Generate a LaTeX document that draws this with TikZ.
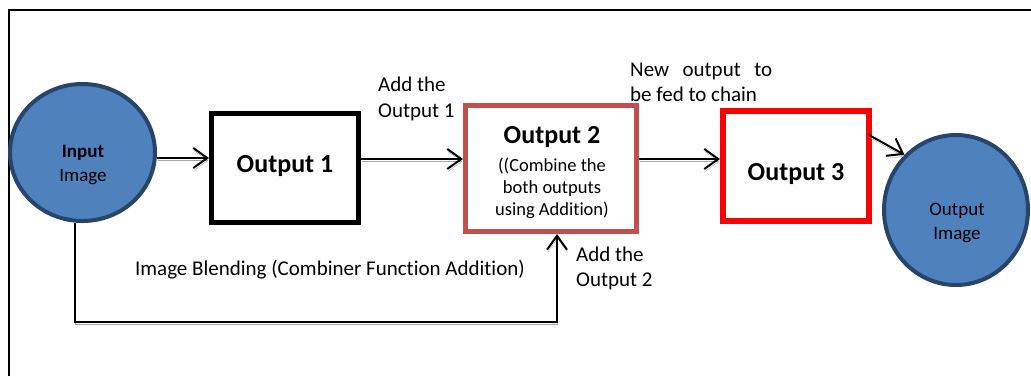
\documentclass[tikz,border=0pt]{standalone}
\usepackage{fontspec}
\setmainfont{Carlito}[Ligatures=NoCommon]
\usetikzlibrary{arrows.meta,shapes.geometric,calc}
\definecolor{cfill}{HTML}{4F81BD}
\definecolor{cedge}{HTML}{27446A}
\definecolor{o2col}{HTML}{C0504D}
\definecolor{o3col}{HTML}{FF0000}
\definecolor{shad}{HTML}{A6A6A6}
\begin{document}
\begin{tikzpicture}[x=1pt,y=-1pt,
 lbl/.style={font=\fontsize{21}{25.6}\selectfont, inner sep=0pt, align=left},
 circ/.style={ellipse, draw=cedge, fill=cfill, line width=4pt, inner sep=0pt},
 ctext/.style={font=\fontsize{19}{24.5}\selectfont, align=center, inner sep=0pt},
 box/.style={rectangle, line width=5pt, inner sep=0pt},
 ttl/.style={font=\bfseries\fontsize{26}{30}\selectfont, inner sep=0pt},
 arr/.style={line width=2pt, -{Straight Barb[length=14pt,width=20pt]},
   preaction={draw=shad, transform canvas={shift={(0.5pt,-2.5pt)}}}}]
\useasboundingbox (0,0) rectangle (1031,376);
\draw[line width=1.5pt] (9,376) -- (9,10) -- (1031,10);

\node[circ, minimum width=145pt, minimum height=137pt] (inp) at (82.5,152.5) {};
\node[ctext] (inpt) at (83,165) {\textbf{Input}\\Image};

\node[box, draw=black, minimum width=147pt, minimum height=109pt] (o1) at (285,168) {};
\node[ttl] (o1t) at (285,166) {Output 1};

\node[ttl] (o2t) at (552,137) {Output 2};
\node[font=\fontsize{18.5}{22}\selectfont, align=center, inner sep=0pt] (o2s) at (552,188) {((Combine the\\both outputs\\using Addition)};
\node[box, draw=o2col, minimum width=171pt, minimum height=126pt] (o2) at (551,168.5) {};

\node[box, draw=o3col, line width=6pt, minimum width=146pt, minimum height=110pt] (o3) at (796,166) {};
\node[ttl] (o3t) at (796,174) {Output 3};

\node[circ, minimum width=144pt, minimum height=150pt] (outc) at (956,210) {};
\node[ctext] (outt) at (957,223) {Output\\Image};

\draw[arr] (inp.east |- 0,158) -- (o1.west |- 0,158);
\draw[arr] (o1.east |- 0,159) -- (o2.west |- 0,159);
\draw[arr] (o2.east |- 0,159) -- (o3.west |- 0,159);
\coordinate (a4) at (869,135);
\draw[arr] (a4) -- (outc.133);
\coordinate (b1) at (75,322);
\coordinate (b2) at (557,322);
\draw[arr] (inp.south -| b1) -- (b1) -- (b2) -- (o2.south -| b2);

\node[lbl, anchor=west] (l1) at (378,99) {Add the\\Output 1};
\node[lbl, anchor=west] (l2) at (630,82.5) {\makebox[142pt][s]{New output to}\\be fed to chain};
\node[lbl] (l3) at (330,270) {Image Blending (Combiner Function Addition)};
\node[lbl, anchor=west] (l4) at (576,268.5) {Add the\\Output 2};
\end{tikzpicture}
\end{document}
